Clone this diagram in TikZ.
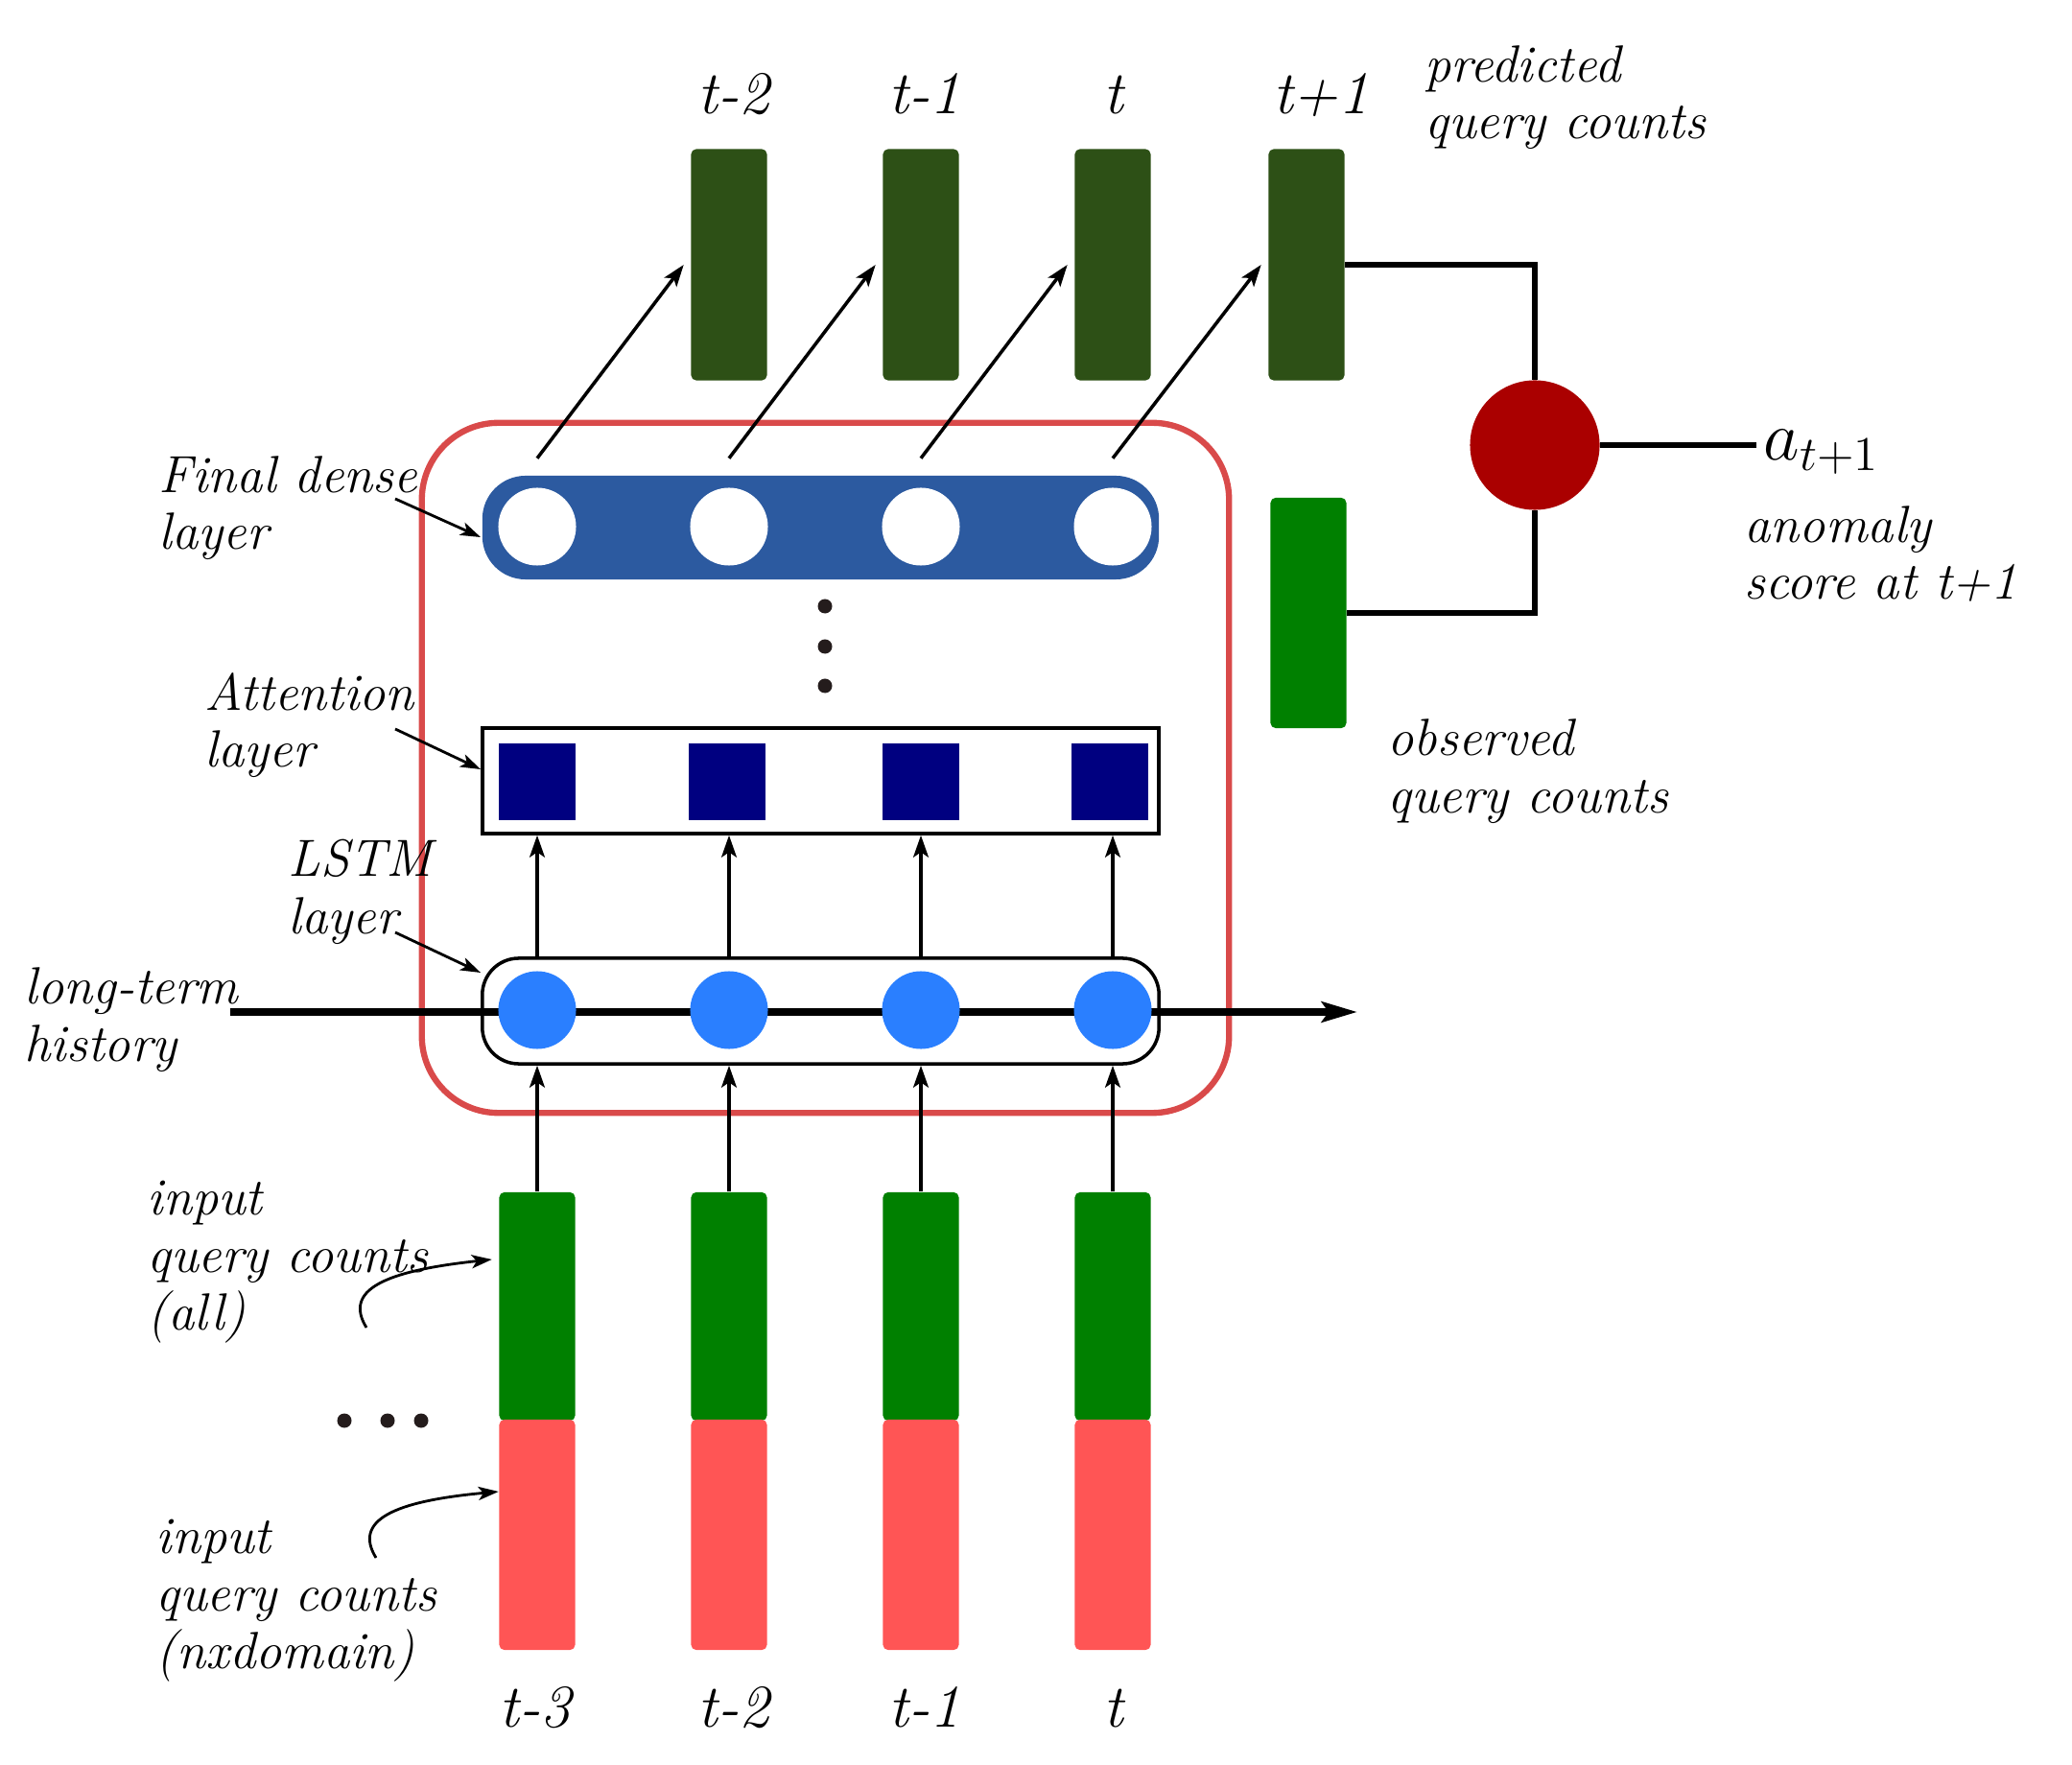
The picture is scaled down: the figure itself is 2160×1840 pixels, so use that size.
\documentclass[tikz,border=0pt]{standalone}
\usepackage{tikz}
\usetikzlibrary{positioning,calc,arrows.meta}
\usepackage{xcolor}
\usepackage{amsmath}

\definecolor{predgreen}{HTML}{2D5016}
\definecolor{ingreen}{HTML}{008000}
\definecolor{inred}{HTML}{FF5555}
\definecolor{denseblue}{HTML}{2C5AA0}
\definecolor{lstmblue}{HTML}{2A7FFF}
\definecolor{attnavy}{HTML}{000080}
\definecolor{scorered}{HTML}{AA0000}
\definecolor{framered}{HTML}{D94A4A}
\definecolor{dotdark}{HTML}{241C1C}

\tikzset{
  bar/.style={rectangle,rounded corners=1.5pt,minimum width=0.79cm,
    minimum height=2.4cm,inner sep=0pt},
  unit/.style={circle,minimum size=0.81cm,inner sep=0pt},
  dot/.style={circle,fill=dotdark,minimum size=0.15cm,inner sep=0pt},
  layerbox/.style={rectangle,draw=black,line width=1pt,
    minimum width=7.05cm,minimum height=1.1cm,inner sep=0pt},
  arr/.style={line width=1pt,-{Stealth[length=6.5pt,width=4.5pt,inset=1.5pt]}},
  thinarr/.style={line width=0.8pt,-{Stealth[length=6pt,width=4pt,inset=1.5pt]}},
  conn/.style={line width=1.9pt},
  note/.style={font=\itshape\fontsize{15.5}{17}\selectfont,align=left,
    inner sep=0pt,anchor=base west},
  tlabel/.style={font=\itshape\fontsize{18}{21}\selectfont,inner sep=0pt,
    anchor=base}
}

\begin{document}
\begin{tikzpicture}[x=0.01cm,y=-0.01cm]
  \useasboundingbox (0,0) rectangle (2160,1840);

  % model frame
  \node[draw=framered,line width=1.8pt,rounded corners=0.8cm,
    minimum width=8.41cm,minimum height=7.19cm] (model) at (860.5,800.5) {};

  % layers
  \node[layerbox,draw=none,fill=denseblue,rounded corners=0.45cm,
    minimum height=1.08cm] (dense) at (855.5,550) {};
  \node[layerbox,fill=white] (att) at (855.5,814) {};
  \node[layerbox,rounded corners=0.38cm] (lstm) at (855.5,1054) {};

  % long-term history line
  \coordinate (histStart) at (240,1055);
  \coordinate (histEnd) at (1415,1055);
  \draw[line width=2.2pt,-{Stealth[length=10.5pt,width=6pt,inset=2pt]}]
    (histStart) -- (histEnd);

  \foreach \i/\x/\ax/\px/\lo/\lox/\hi/\hix in
    {1/560/560/760/t-3/558/t-2/765,
     2/760/758/960/t-2/765/t-1/964,
     3/960/960/1160/t-1/964/t/1161,
     4/1160/1157/1362/t/1161/t+1/1377}{
    % units
    \node[unit,fill=white] (d\i) at (\x,549) {};
    \node[rectangle,fill=attnavy,minimum width=0.8cm,minimum height=0.79cm,
      inner sep=0pt] (a\i) at (\ax,815) {};
    \node[unit,fill=lstmblue] (l\i) at (\x,1053) {};
    % inputs
    \node[bar,fill=ingreen,minimum height=2.38cm] (g\i) at (\x,1362) {};
    \node[bar,fill=inred] (r\i) at (\x,1600) {};
    \node[tlabel] (lo\i) at (\lox,1800) {\lo};
    % predictions
    \node[bar,fill=predgreen,minimum height=2.41cm] (p\i) at (\px,276) {};
    \node[tlabel] (hi\i) at (\hix,119) {\hi};
    % arrows
    \draw[arr] (g\i.north) -- (l\i |- lstm.south);
    \draw[arr] (l\i |- lstm.north) -- (l\i |- att.south);
    \draw[arr] ([yshift=0.3cm]d\i.north) -- ([xshift=-2pt]p\i.west);
  }

  % dots between layers
  \node[dot] (vdot1) at (860,632) {};
  \node[dot] (vdot2) at (860,674) {};
  \node[dot] (vdot3) at (860,715) {};
  \node[dot] (hdot1) at (359,1481) {};
  \node[dot] (hdot2) at (404,1481) {};
  \node[dot] (hdot3) at (439,1481) {};

  % observed value and anomaly score
  \node[bar,fill=ingreen] (obs) at (1364,639) {};
  \node[circle,fill=scorered,minimum size=1.35cm,inner sep=0pt]
    (score) at (1600,464) {};
  \draw[conn] (p4.east) -| (score.north);
  \draw[conn] (obs.east) -| (score.south);
  \node[font=\fontsize{20}{24}\selectfont,inner xsep=2pt,inner ysep=0pt,
    anchor=base west] (alabel) at (1831,480) {$a_{t+1}$};
  \draw[conn] (score.east) -- (score.east -| alabel.west);

  % annotations (anchored at the baseline of the last line)
  \node[note] (predTxt) at (1485,145) {predicted\\query counts};
  \node[note] (obsTxt) at (1446,847) {observed\\query counts};
  \node[note] (scoreTxt) at (1818,625) {anomaly\\score at t+1};
  \node[note] (denseTxt) at (165,573) {Final dense\\layer};
  \node[note] (attTxt) at (213,800) {Attention\\layer};
  \node[note] (lstmTxt) at (300,973) {LSTM\\layer};
  \node[note] (histTxt) at (25,1106) {long-term\\history};
  \node[note] (allTxt) at (153,1386) {input\\query counts\\(all)};
  \node[note] (nxTxt) at (162,1739) {input\\query counts\\(nxdomain)};

  \coordinate (denseTail) at (412,520);
  \coordinate (attTail) at (412,760);
  \coordinate (lstmTail) at (412,972);
  \coordinate (allTail) at (382,1384);
  \coordinate (nxTail) at (392,1624);
  \draw[thinarr] (denseTail) -- ([yshift=-0.1cm]dense.west);
  \draw[thinarr] (attTail) -- ([yshift=0.12cm]att.west);
  \draw[thinarr] (lstmTail) -- ([yshift=0.4cm]lstm.west);
  \draw[thinarr] (allTail) .. controls (358,1345) and (400,1325)
    .. ([xshift=-2pt,yshift=0.49cm]g1.west);
  \draw[thinarr] (nxTail) .. controls (368,1585) and (410,1565)
    .. ([yshift=0.45cm]r1.west);
\end{tikzpicture}
\end{document}
